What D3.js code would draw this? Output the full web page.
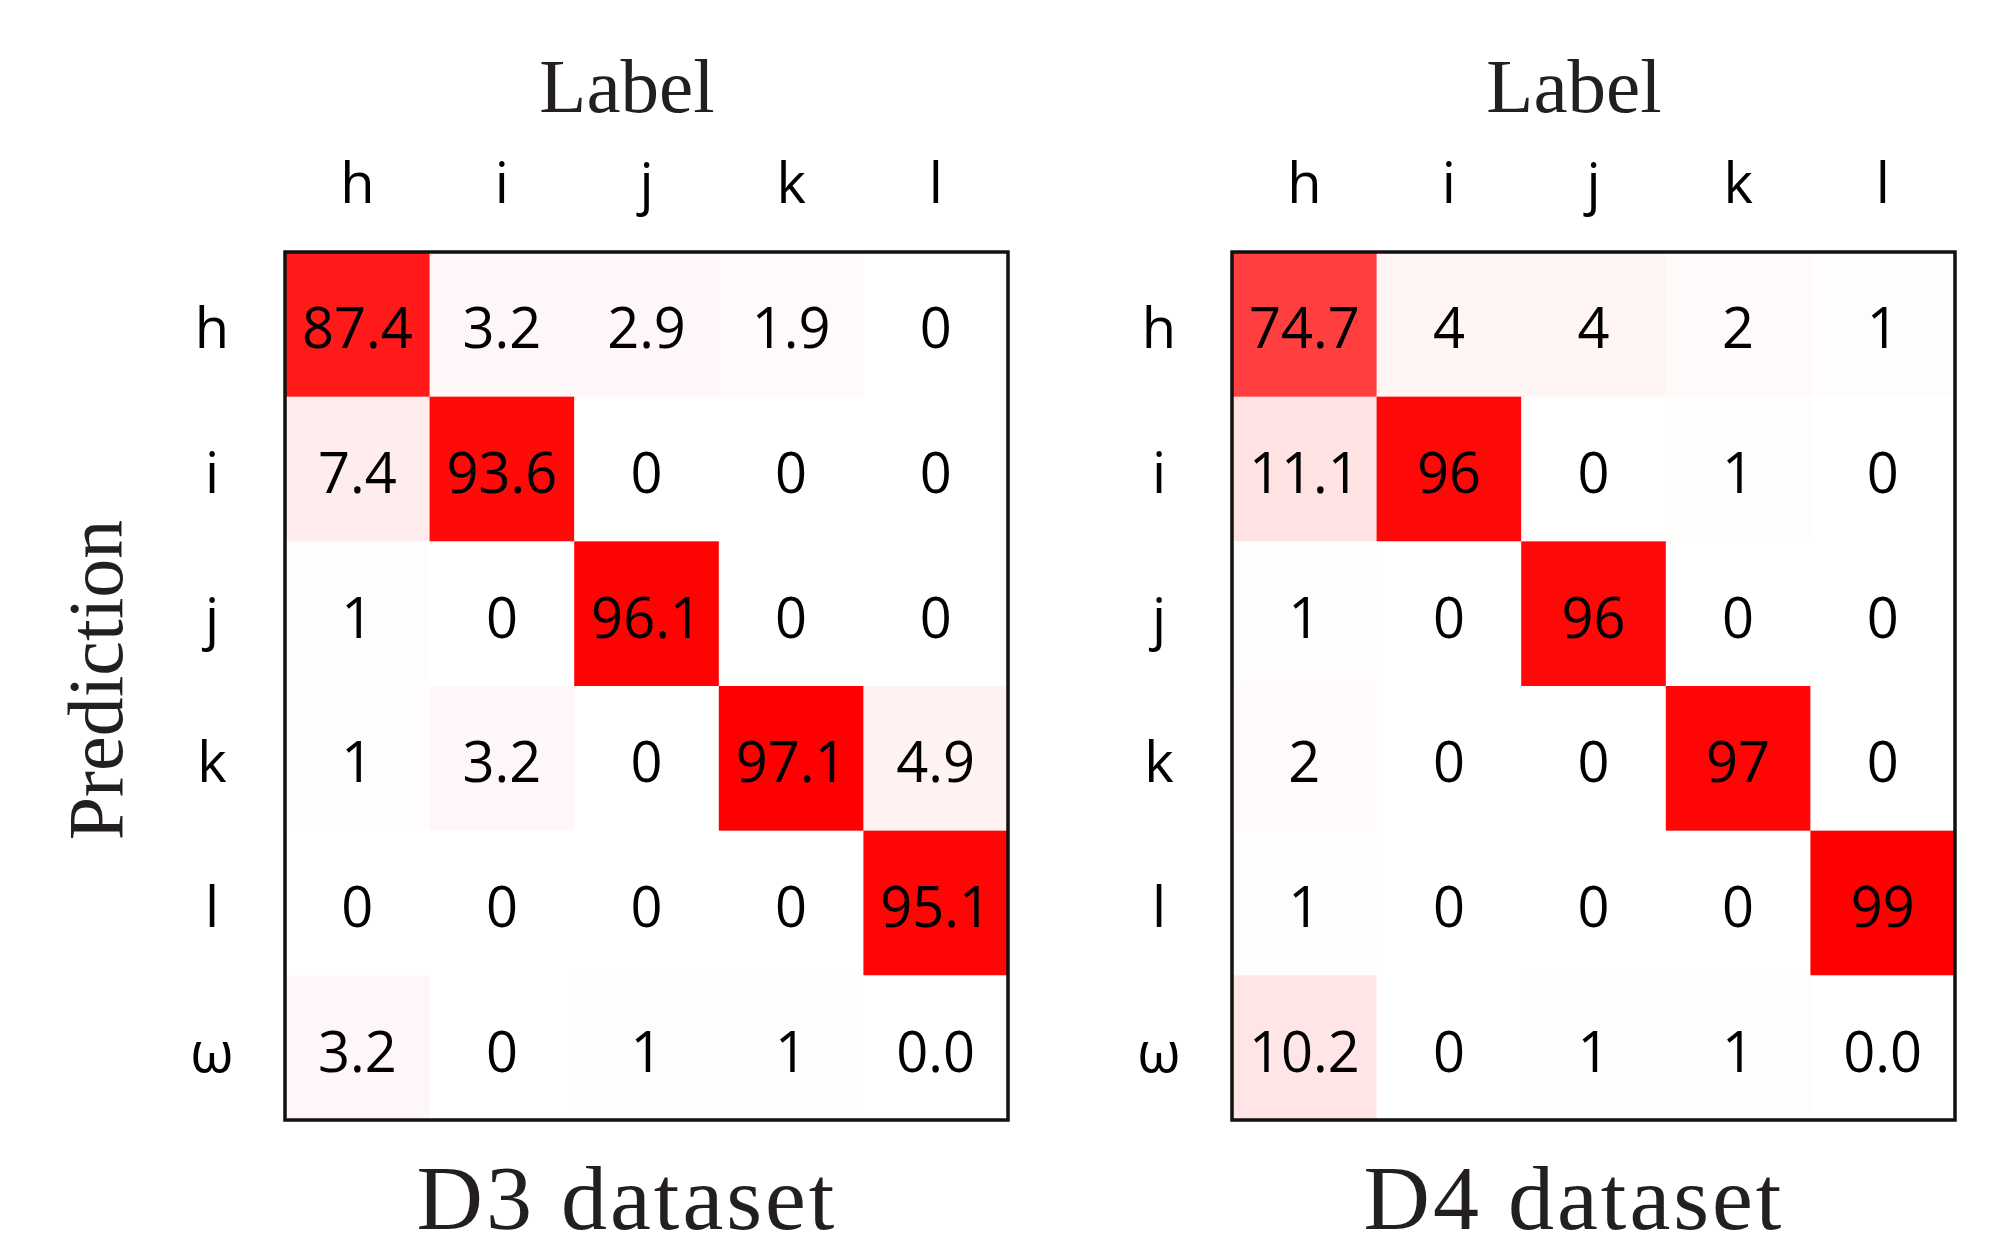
<!DOCTYPE html>
<html>
<head>
<meta charset="utf-8">
<script src="https://cdn.jsdelivr.net/npm/d3@7"></script>
<style>
  html, body { margin: 0; padding: 0; background: #fff; }
  svg { display: block; }
</style>
</head>
<body>
<svg id="chart" width="1993" height="1234"></svg>
<script>
// Class labels
const labelClasses = ["h", "i", "j", "k", "l"];
const predictionClasses = ["h", "i", "j", "k", "l", "ω"];

// Confusion matrices (rows = prediction, columns = label), as printed in each cell
const d3Cells = [
  ["87.4", "3.2", "2.9", "1.9", "0"],
  ["7.4", "93.6", "0", "0", "0"],
  ["1", "0", "96.1", "0", "0"],
  ["1", "3.2", "0", "97.1", "4.9"],
  ["0", "0", "0", "0", "95.1"],
  ["3.2", "0", "1", "1", "0.0"]
];
const d4Cells = [
  ["74.7", "4", "4", "2", "1"],
  ["11.1", "96", "0", "1", "0"],
  ["1", "0", "96", "0", "0"],
  ["2", "0", "0", "97", "0"],
  ["1", "0", "0", "0", "99"],
  ["10.2", "0", "1", "1", "0.0"]
];
const panelTitles = ["D3 dataset", "D4 dataset"];

const svg = d3.select("#chart");

const panels = [
  { cells: d3Cells, title: panelTitles[0], x0: 285, x1: 1008, rowLabelX: 212, titleX: 627, showYTitle: true },
  { cells: d4Cells, title: panelTitles[1], x0: 1232, x1: 1955, rowLabelX: 1159, titleX: 1574, showYTitle: false }
];
const y0 = 252, y1 = 1120;
const sansFont = "'Open Sans', 'DejaVu Sans', sans-serif";
const serifFont = "'Liberation Serif', 'DejaVu Serif', serif";

panels.forEach(p => {
  const g = svg.append("g");
  const x = d3.scaleBand().domain(labelClasses).range([p.x0, p.x1]);
  const y = d3.scaleBand().domain(predictionClasses).range([y0, y1]);

  const flat = [];
  p.cells.forEach((row, ri) => row.forEach((txt, ci) => {
    flat.push({ row: predictionClasses[ri], col: labelClasses[ci], text: txt, value: +txt });
  }));
  const maxVal = d3.max(flat, d => d.value);
  const color = d3.scaleLinear().domain([0, maxVal]).range(["#ffffff", "#ff0000"]);

  // heatmap cells
  g.selectAll("rect.cell").data(flat).join("rect")
    .attr("class", "cell")
    .attr("x", d => x(d.col))
    .attr("y", d => y(d.row))
    .attr("width", x.bandwidth() + 0.5)
    .attr("height", y.bandwidth() + 0.5)
    .attr("fill", d => color(d.value));

  // cell value labels
  g.selectAll("text.val").data(flat).join("text")
    .attr("class", "val")
    .attr("x", d => x(d.col) + x.bandwidth() / 2)
    .attr("y", d => y(d.row) + y.bandwidth() / 2 + 24)
    .attr("text-anchor", "middle")
    .style("font-family", sansFont)
    .style("font-size", "56px")
    .attr("fill", "#000")
    .text(d => d.text);

  // frame
  g.append("rect")
    .attr("x", p.x0).attr("y", y0)
    .attr("width", p.x1 - p.x0).attr("height", y1 - y0)
    .attr("fill", "none").attr("stroke", "#111").attr("stroke-width", 3.5);

  // column (label) ticks
  g.selectAll("text.col").data(labelClasses).join("text")
    .attr("class", "col")
    .attr("x", d => x(d) + x.bandwidth() / 2)
    .attr("y", 203)
    .attr("text-anchor", "middle")
    .style("font-family", sansFont)
    .style("font-size", "56px")
    .attr("fill", "#000")
    .text(d => d);

  // row (prediction) ticks
  g.selectAll("text.row").data(predictionClasses).join("text")
    .attr("class", "row")
    .attr("x", p.rowLabelX)
    .attr("y", d => y(d) + y.bandwidth() / 2 + 24)
    .attr("text-anchor", "middle")
    .style("font-family", sansFont)
    .style("font-size", "56px")
    .attr("fill", "#000")
    .text(d => d);

  // axis title on top
  g.append("text")
    .attr("x", p.titleX).attr("y", 112)
    .attr("text-anchor", "middle")
    .style("font-family", serifFont)
    .style("font-size", "77px")
    .attr("fill", "#231f20")
    .text("Label");

  // dataset title below
  g.append("text")
    .attr("x", p.titleX).attr("y", 1229)
    .attr("text-anchor", "middle")
    .style("font-family", serifFont)
    .style("font-size", "92px")
    .style("letter-spacing", "3px")
    .attr("fill", "#231f20")
    .text(p.title);

  if (p.showYTitle) {
    g.append("text")
      .attr("transform", "translate(122,680) rotate(-90)")
      .attr("text-anchor", "middle")
      .style("font-family", serifFont)
      .style("font-size", "78px")
      .attr("fill", "#231f20")
      .text("Prediction");
  }
});
</script>
</body>
</html>
